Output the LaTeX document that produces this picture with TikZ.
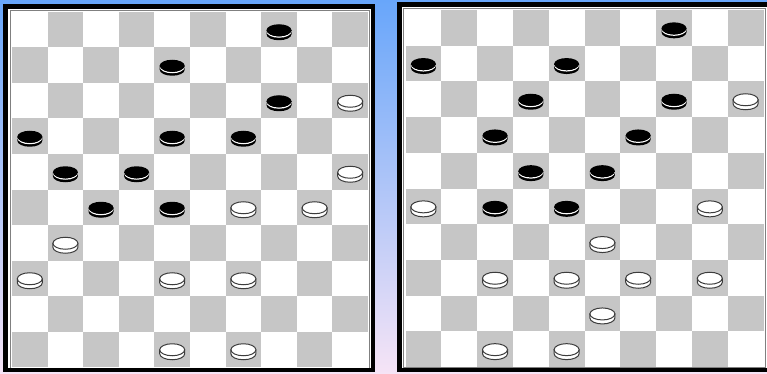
\documentclass[tikz,border=0pt]{standalone}
\definecolor{bgtop}{RGB}{104,166,250}
\definecolor{bgbot}{RGB}{246,228,246}
\definecolor{sqgray}{RGB}{198,198,198}
\definecolor{pline}{RGB}{60,60,60}
\tikzset{
  darksq/.style={fill=sqgray},
  boardbg/.style={fill=white},
  outerframe/.style={draw=black,line width=4.5pt},
  innerframe/.style={draw=gray,line width=0.8pt},
  pics/bpiece/.style={code={
    \fill[black] (-12.5,0.5) -- (-12.5,4.5) arc[start angle=180,end angle=0,x radius=12.5,y radius=6] -- (12.5,0.5) -- cycle;
    \draw[white,line width=1.2pt] (-12,1.4) arc[start angle=180,end angle=0,x radius=12,y radius=6];
    \fill[black] (0,0.5) ellipse[x radius=12.5,y radius=6];
  }},
  pics/wpiece/.style={code={
    \filldraw[fill=white,draw=pline,line width=1pt] (-12.5,0.5) -- (-12.5,4.5) arc[start angle=180,end angle=0,x radius=12.5,y radius=6] -- (12.5,0.5) -- cycle;
    \filldraw[fill=white,draw=pline,line width=1pt] (0,0.5) ellipse[x radius=12.5,y radius=6];
  }},
}
\begin{document}
\begin{tikzpicture}[x=1pt,y=-1pt]
\useasboundingbox (0,0) rectangle (767,374);
\clip (0,0) rectangle (767,374);
\shade[top color=bgtop,bottom color=bgbot] (0,0) rectangle (767,374);
% boards
\fill[boardbg] (8,9) rectangle (371,369);
\fill[boardbg] (402,6) rectangle (767,369);
\foreach \i in {0,...,9} {
  \foreach \j in {0,...,9} {
    \pgfmathtruncatemacro{\pty}{mod(\i+\j,2)}
    \ifnum\pty=1
      \fill[darksq] ({12+35.6*\i},{12+35.5*\j}) rectangle ++(35.6,35.5);
      \fill[darksq] ({405.5+35.8*\i},{10+35.7*\j}) rectangle ++(35.8,35.7);
    \fi
  }
}
\draw[innerframe] (10,10.5) rectangle (369.5,368);
\draw[outerframe] (5.5,6.5) rectangle (373,370.2);
\draw[innerframe] (403.5,8) rectangle (765,367.5);
\draw[outerframe] (399.5,4.5) rectangle (771,370);
% left pieces
\foreach \c/\r in {7/0,4/1,7/2,0/3,4/3,6/3,1/4,3/4,2/5,4/5}
  \pic at ({12+35.6*(\c+0.5)},{12+35.5*(\r+0.5)}) {bpiece};
\foreach \c/\r in {9/2,9/4,6/5,8/5,1/6,0/7,4/7,6/7,4/9,6/9}
  \pic at ({12+35.6*(\c+0.5)},{12+35.5*(\r+0.5)}) {wpiece};
% right pieces
\foreach \c/\r in {7/0,0/1,4/1,3/2,7/2,2/3,6/3,3/4,5/4,2/5,4/5}
  \pic at ({405.5+35.8*(\c+0.5)},{10+35.7*(\r+0.5)}) {bpiece};
\foreach \c/\r in {9/2,0/5,8/5,5/6,2/7,4/7,6/7,8/7,5/8,2/9,4/9}
  \pic at ({405.5+35.8*(\c+0.5)},{10+35.7*(\r+0.5)}) {wpiece};
\end{tikzpicture}
\end{document}
